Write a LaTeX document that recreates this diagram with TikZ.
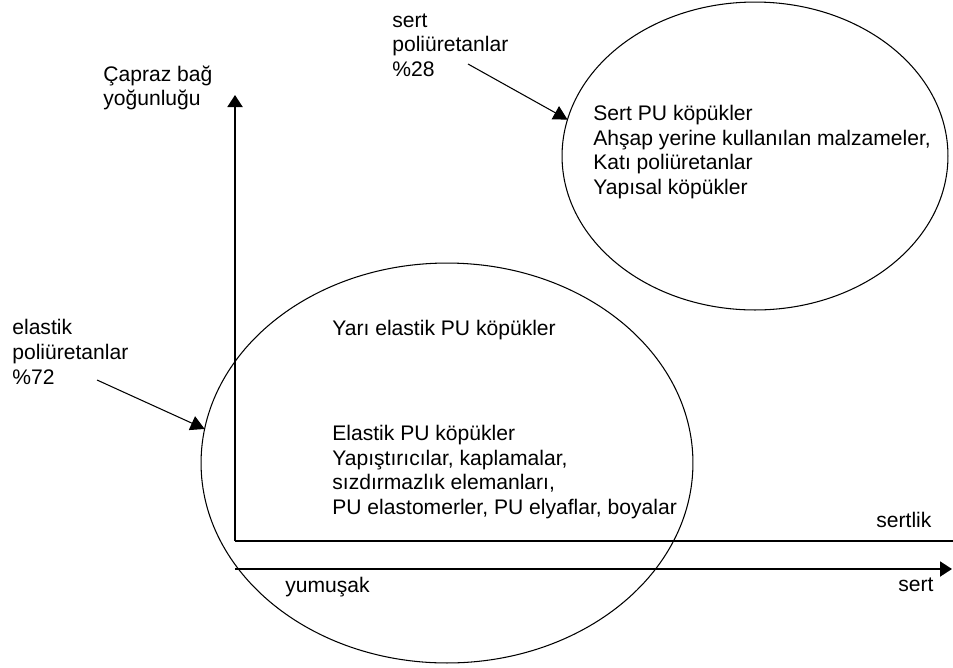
\documentclass[tikz,border=0pt]{standalone}
\usepackage{fontspec}
\setmainfont{Liberation Sans}
\usetikzlibrary{arrows.meta,shapes.geometric}
\tikzset{
  axis/.style={line width=1.1pt},
  pointer/.style={line width=0.6pt,-{Triangle[length=0.28cm,width=0.3cm]}},
  blob/.style={draw,ellipse,line width=0.6pt,inner sep=0pt,outer sep=0pt},
  lbl/.style={align=left,inner sep=0pt,anchor=west,font=\fontsize{12}{14}\selectfont}
}
\begin{document}
\begin{tikzpicture}[x=0.02cm,y=-0.02cm]
  \useasboundingbox (0,0) rectangle (953,667);
  % groups
  \node[blob,minimum width=9.84cm,minimum height=8cm] (soft) at (447,463) {};
  \node[blob,minimum width=7.72cm,minimum height=6.16cm] (hard) at (755,156) {};
  % axes
  \coordinate (origin) at (235,541);
  \coordinate (ytop) at (235,95);
  \coordinate (xend) at (953,541);
  \coordinate (s0) at (235,569);
  \coordinate (s1) at (952,569);
  \draw[axis,-{Triangle[length=0.24cm,width=0.3cm]}] (origin) -- (ytop);
  \draw[axis] (origin) -- (xend);
  \draw[axis,-{Triangle[length=0.24cm,width=0.3cm]}] (s0) -- (s1);
  \node[lbl] (ylabel) at (103,88) {Çapraz bağ\\yoğunluğu};
  \node[lbl] (xlabel) at (876,520) {sertlik};
  \node[lbl] (soft0) at (285,587) {yumuşak};
  \node[lbl] (hard0) at (898,585) {sert};
  % contents
  \node[lbl] (semi) at (332,330) {Yarı elastik PU köpükler};
  \node[lbl] (softlist) at (332,472) {Elastik PU köpükler\\Yapıştırıcılar, kaplamalar,\\sızdırmazlık elemanları,\\PU elastomerler, PU elyaflar, boyalar};
  \node[lbl] (hardlist) at (593,152) {Sert PU köpükler\\Ahşap yerine kullanılan malzameler,\\Katı poliüretanlar\\Yapısal köpükler};
  % shares
  \node[lbl] (share28) at (392,45) {sert\\poliüretanlar\\\%28};
  \node[lbl] (share72) at (12,352) {elastik\\poliüretanlar\\\%72};
  \coordinate (p28) at (468,64);
  \coordinate (p72) at (97,380);
  \draw[pointer] (p28) -- (hard.169);
  \draw[pointer] (p72) -- (soft.172);
\end{tikzpicture}
\end{document}
